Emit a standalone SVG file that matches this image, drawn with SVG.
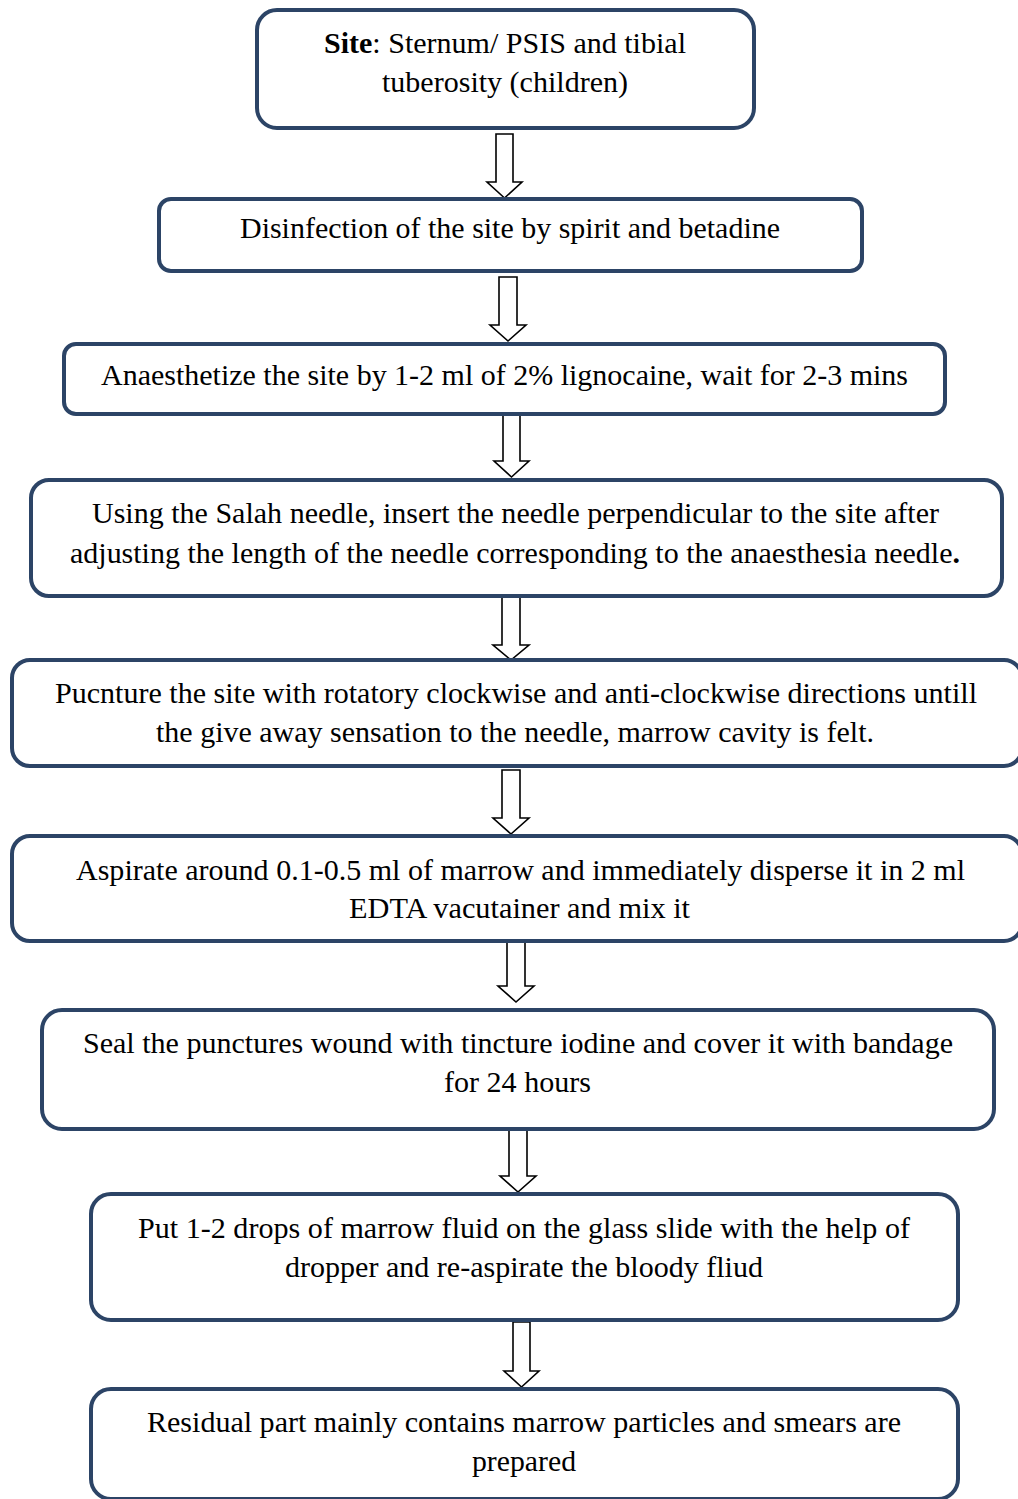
<svg xmlns="http://www.w3.org/2000/svg" width="1018" height="1499" viewBox="0 0 1018 1499">
<style>
.box{fill:#fff;stroke:#2c4466;stroke-width:4}
.t{font-family:'Liberation Serif','Times New Roman',serif;font-size:29px;fill:#000;text-anchor:middle}
.arr{fill:#fff;stroke:#000;stroke-width:1.6;stroke-linejoin:miter}
</style>
<rect width="1018" height="1499" fill="#fff"/>
<g id="connectors">
<polygon class="arr" points="496,134 513,134 513,182 522,182 504.5,198 487,182 496,182"/>
<polygon class="arr" points="499,277 517,277 517,325 526,325 508,341 490,325 499,325"/>
<polygon class="arr" points="503,413 520,413 520,461 529,461 511.5,477 494,461 503,461"/>
<polygon class="arr" points="502,597 520,597 520,645 529,645 511,660 493,645 502,645"/>
<polygon class="arr" points="502,770 520,770 520,818 529,818 511,834 493,818 502,818"/>
<polygon class="arr" points="507,940 525,940 525,986 534,986 516,1002 498,986 507,986"/>
<polygon class="arr" points="509,1128 527,1128 527,1176 536,1176 518,1192 500,1176 509,1176"/>
<polygon class="arr" points="513,1322 530,1322 530,1371 539,1371 521.5,1387 504,1371 513,1371"/>
</g>
<g id="n1"><rect class="box" x="257" y="10" width="497" height="118" rx="20"/>
<text class="t" x="505" y="53" textLength="362" lengthAdjust="spacingAndGlyphs"><tspan font-weight="bold">Site</tspan>: Sternum/ PSIS and tibial</text>
<text class="t" x="505" y="92" textLength="246" lengthAdjust="spacingAndGlyphs">tuberosity (children)</text></g>
<g id="n2"><rect class="box" x="159" y="199" width="703" height="72" rx="12"/>
<text class="t" x="510" y="238" textLength="540" lengthAdjust="spacingAndGlyphs">Disinfection of the site by spirit and betadine</text></g>
<g id="n3"><rect class="box" x="64" y="344" width="881" height="70" rx="12"/>
<text class="t" x="504.5" y="385" textLength="807" lengthAdjust="spacingAndGlyphs">Anaesthetize the site by 1-2 ml of 2% lignocaine, wait for 2-3 mins</text></g>
<g id="n4"><rect class="box" x="31" y="480" width="971" height="116" rx="18"/>
<text class="t" x="515.5" y="523" textLength="847" lengthAdjust="spacingAndGlyphs">Using the Salah needle, insert the needle perpendicular to the site after</text>
<text class="t" x="515" y="563" textLength="890" lengthAdjust="spacingAndGlyphs">adjusting the length of the needle corresponding to the anaesthesia needle<tspan font-weight="bold">.</tspan></text></g>
<g id="n5"><rect class="box" x="12" y="660" width="1010" height="106" rx="18"/>
<text class="t" x="516" y="703" textLength="922" lengthAdjust="spacingAndGlyphs">Pucnture the site with rotatory clockwise and anti-clockwise directions untill</text>
<text class="t" x="515" y="742" textLength="718" lengthAdjust="spacingAndGlyphs">the give away sensation to the needle, marrow cavity is felt.</text></g>
<g id="n6"><rect class="box" x="12" y="836" width="1010" height="105" rx="18"/>
<text class="t" x="520.5" y="880" textLength="889" lengthAdjust="spacingAndGlyphs">Aspirate around 0.1-0.5 ml of marrow and immediately disperse it in 2 ml</text>
<text class="t" x="519.5" y="918" textLength="341" lengthAdjust="spacingAndGlyphs">EDTA vacutainer and mix it</text></g>
<g id="n7"><rect class="box" x="42" y="1010" width="952" height="119" rx="20"/>
<text class="t" x="518" y="1053" textLength="870" lengthAdjust="spacingAndGlyphs">Seal the punctures wound with tincture iodine and cover it with bandage</text>
<text class="t" x="517.5" y="1092" textLength="147" lengthAdjust="spacingAndGlyphs">for 24 hours</text></g>
<g id="n8"><rect class="box" x="91" y="1194" width="867" height="126" rx="20"/>
<text class="t" x="524" y="1238" textLength="772" lengthAdjust="spacingAndGlyphs">Put 1-2 drops of marrow fluid on the glass slide with the help of</text>
<text class="t" x="524" y="1277" textLength="478" lengthAdjust="spacingAndGlyphs">dropper and re-aspirate the bloody fliud</text></g>
<g id="n9"><rect class="box" x="91" y="1389" width="867" height="110" rx="20"/>
<text class="t" x="524" y="1432" textLength="754" lengthAdjust="spacingAndGlyphs">Residual part mainly contains marrow particles and smears are</text>
<text class="t" x="524" y="1471" textLength="104" lengthAdjust="spacingAndGlyphs">prepared</text></g>
</svg>
